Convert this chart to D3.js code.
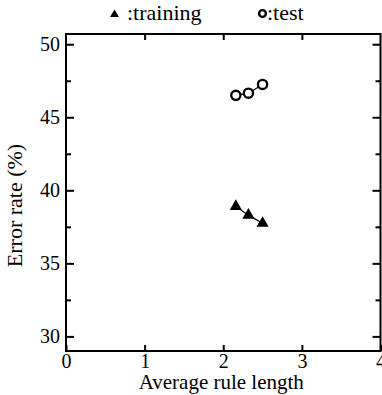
<!DOCTYPE html>
<html>
<head>
<meta charset="utf-8">
<script src="https://cdn.jsdelivr.net/npm/d3@7"></script>
<style>
  body { margin: 0; background: #fff; }
  svg text { font-family: "Liberation Serif", "Times New Roman", serif !important; }
</style>
</head>
<body>
<div id="chart"></div>
<script>
// data
var ruleLength = [2.16, 2.32, 2.50];
var trainError = [38.9, 38.3, 37.75];
var testError = [46.5, 46.65, 47.25];
var xTicks = [0, 1, 2, 3, 4];
var yTicks = [30, 35, 40, 45, 50];
var yMinor = [32.5, 37.5, 42.5, 47.5];

var W = 382, H = 395;
var margin = {top: 34, right: 1.5, bottom: 44, left: 66};
var width = W - margin.left - margin.right,
    height = H - margin.top - margin.bottom;

var svg = d3.select("#chart")
    .append("svg")
    .attr("width", W)
    .attr("height", H)
    .attr("font-family", "Liberation Serif");

var g = svg.append("g")
    .attr("transform", "translate(" + margin.left + "," + margin.top + ")");

var x = d3.scaleLinear().domain([0, 4]).range([0, width]);
var y = d3.scaleLinear().domain([29, 50.7]).range([height, 0]);

// x axis, labels below, ticks inward
var xAxis = g.append("g")
    .attr("transform", "translate(0," + height + ")")
    .call(d3.axisBottom(x).tickValues(xTicks).tickFormat(d3.format("d"))
        .tickSizeInner(-6).tickSizeOuter(0).tickPadding(3));
xAxis.attr("font-family", null).attr("font-size", 20);
xAxis.selectAll("text").attr("dy", "0.71em");

// top ticks
g.append("g")
    .call(d3.axisTop(x).tickValues([1, 2, 3]).tickSizeInner(-6).tickSizeOuter(0).tickFormat(""));

// y axis left
var yAxis = g.append("g")
    .call(d3.axisLeft(y).tickValues(yTicks).tickFormat(d3.format("d"))
        .tickSizeInner(-8).tickSizeOuter(0).tickPadding(6));
yAxis.attr("font-family", null).attr("font-size", 20);
g.append("g")
    .call(d3.axisLeft(y).tickValues(yMinor).tickSizeInner(-5).tickSizeOuter(0).tickFormat(""));

// y axis right
g.append("g")
    .attr("transform", "translate(" + width + ",0)")
    .call(d3.axisRight(y).tickValues(yTicks).tickSizeInner(-8).tickSizeOuter(0).tickFormat(""));
g.append("g")
    .attr("transform", "translate(" + width + ",0)")
    .call(d3.axisRight(y).tickValues(yMinor).tickSizeInner(-5).tickSizeOuter(0).tickFormat(""));

g.selectAll(".domain").remove();
g.selectAll(".tick line").attr("stroke", "#000").attr("stroke-width", 2);

// frame
g.append("rect")
    .attr("width", width)
    .attr("height", height)
    .attr("fill", "none")
    .attr("stroke", "#000")
    .attr("stroke-width", 2);

// axis titles
svg.append("text")
    .attr("x", margin.left + width / 2 - 2)
    .attr("y", 389)
    .attr("text-anchor", "middle")
    .attr("font-size", 21)
    .text("Average rule length");

svg.append("text")
    .attr("transform", "translate(22," + (margin.top + height / 2 + 13) + ") rotate(-90)")
    .attr("text-anchor", "middle")
    .attr("font-size", 22)
    .text("Error rate (%)");

// lines
var line = d3.line()
    .x(function(d, i) { return x(ruleLength[i]); })
    .y(function(d) { return y(d); });

g.append("path").datum(trainError)
    .attr("d", line).attr("fill", "none").attr("stroke", "#000").attr("stroke-width", 1.2);
g.append("path").datum(testError)
    .attr("d", line).attr("fill", "none").attr("stroke", "#000").attr("stroke-width", 1.2);

// markers
var tri = d3.symbol().type(d3.symbolTriangle).size(64);
g.selectAll(".train")
    .data(trainError)
    .enter()
    .append("path")
    .attr("class", "train")
    .attr("d", tri)
    .attr("transform", function(d, i) { return "translate(" + x(ruleLength[i]) + "," + y(d) + ")"; })
    .attr("fill", "#000");

g.selectAll(".test")
    .data(testError)
    .enter()
    .append("circle")
    .attr("class", "test")
    .attr("cx", function(d, i) { return x(ruleLength[i]); })
    .attr("cy", function(d) { return y(d); })
    .attr("r", 4.6)
    .attr("fill", "#fff")
    .attr("stroke", "#000")
    .attr("stroke-width", 2.3);

// legend
var legend = svg.append("g");
legend.append("path")
    .attr("d", d3.symbol().type(d3.symbolTriangle).size(34))
    .attr("transform", "translate(114.5,14.5)")
    .attr("fill", "#000");
legend.append("text")
    .attr("x", 127)
    .attr("y", 20)
    .attr("font-size", 22)
    .text(":training");
legend.append("circle")
    .attr("cx", 262.5)
    .attr("cy", 13.5)
    .attr("r", 3.4)
    .attr("fill", "none")
    .attr("stroke", "#000")
    .attr("stroke-width", 2.4);
legend.append("text")
    .attr("x", 267)
    .attr("y", 20)
    .attr("font-size", 22)
    .text(":test");
</script>
</body>
</html>
